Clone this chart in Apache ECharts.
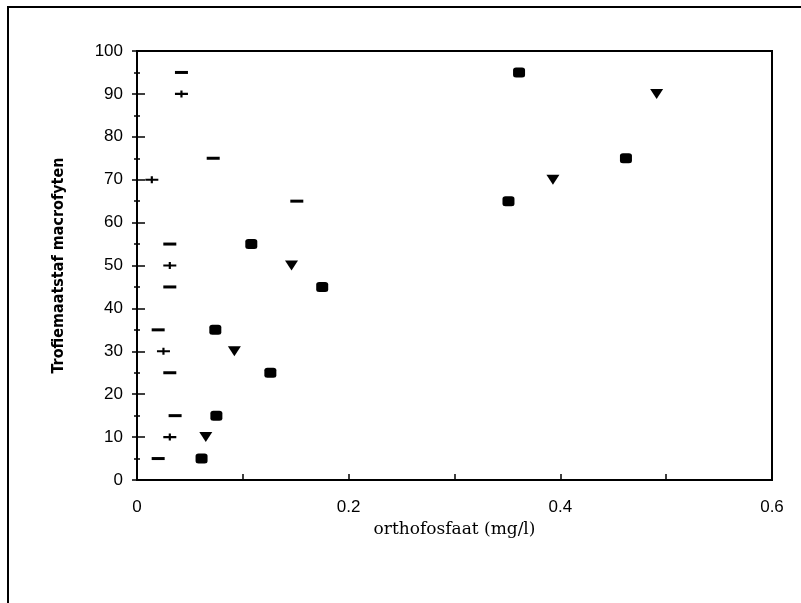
<!DOCTYPE html>
<html><head><meta charset="utf-8">
<script src="https://cdn.jsdelivr.net/npm/echarts@6/dist/echarts.min.js"></script>
<style>html,body{margin:0;padding:0;background:#fff}#c{width:801px;height:603px}</style>
</head><body><div id="c"></div>
<script>
// Series: filled squares
const squareX = [0.061, 0.075, 0.126, 0.074, 0.175, 0.108, 0.351, 0.462, 0.361];
const squareY = [5, 15, 25, 35, 45, 55, 65, 75, 95];
// Series: down triangles
const triX = [0.065, 0.092, 0.146, 0.393, 0.491];
const triY = [10, 30, 50, 70, 90];
// Series: dashes
const dashX = [0.020, 0.036, 0.031, 0.020, 0.031, 0.031, 0.151, 0.072, 0.042];
const dashY = [5, 15, 25, 35, 45, 55, 65, 75, 95];
// Series: plus marks
const plusX = [0.031, 0.025, 0.031, 0.014, 0.042];
const plusY = [10, 30, 50, 70, 90];

const xName = 'orthofosfaat (mg/l)';
const yName = 'Trofiemaatstaf macrofyten';

const pairs = (xs, ys) => xs.map((v, i) => [v, ys[i]]);
const chart = echarts.init(document.getElementById('c'), null, {renderer: 'canvas'});
const tickFont = 'Liberation Sans, Arial, sans-serif';
const yAxisBase = {
  type: 'value', min: 0, max: 100, interval: 10, position: 'left', offset: 0,
  splitLine: {show: false}
};
const black = '#000';
const sc = (xs, ys, extra) => Object.assign({
  type: 'scatter', data: pairs(xs, ys), itemStyle: {color: black, opacity: 1},
  emphasis: {disabled: true}, silent: true, animation: false
}, extra);

chart.setOption({
  animation: false,
  backgroundColor: '#fff',
  grid: {left: 137, right: 29, top: 51, bottom: 123, show: true, borderColor: black, borderWidth: 2, backgroundColor: 'transparent'},
  graphic: [{type: 'rect', shape: {x: 8, y: 7, width: 820, height: 620}, style: {fill: 'none', stroke: black, lineWidth: 2}, silent: true}],
  xAxis: {
    type: 'value', min: 0, max: 0.6, interval: 0.1,
    axisLine: {lineStyle: {color: black, width: 2}},
    axisTick: {inside: true, length: 6, lineStyle: {color: black, width: 1.5}},
    splitLine: {show: false},
    axisLabel: {
      color: black, fontSize: 17, fontFamily: tickFont, margin: 19,
      formatter: v => { const k = Math.round(v * 10); return k % 2 === 0 ? String(k / 10) : ''; }
    },
    name: xName, nameLocation: 'middle', nameGap: 40,
    nameTextStyle: {color: black, fontSize: 17, fontFamily: 'DejaVu Serif, serif'}
  },
  yAxis: [
    Object.assign({}, yAxisBase, {
      axisLine: {lineStyle: {color: black, width: 2}},
      axisTick: {inside: false, length: 5, lineStyle: {color: black, width: 1.5}},
      minorTick: {show: true, splitNumber: 2, length: 3, lineStyle: {color: black, width: 1.5}},
      axisLabel: {color: black, fontSize: 17, fontFamily: tickFont, margin: 14},
      name: yName, nameLocation: 'middle', nameGap: 70,
      nameTextStyle: {color: black, fontSize: 16, fontWeight: 'bold', fontFamily: 'DejaVu Sans Condensed, Liberation Sans Narrow, DejaVu Sans, sans-serif'}
    }),
    Object.assign({}, yAxisBase, {
      axisLine: {show: false},
      axisTick: {inside: true, length: 8, lineStyle: {color: black, width: 1.5}},
      minorTick: {show: true, splitNumber: 2, length: 3, lineStyle: {color: black, width: 1.5}},
      axisLabel: {show: false}
    })
  ],
  series: [
    sc(squareX, squareY, {symbol: 'roundRect', symbolSize: [12, 10]}),
    sc(triX, triY, {symbol: 'triangle', symbolRotate: 180, symbolSize: [13, 10]}),
    sc(dashX, dashY, {symbol: 'rect', symbolSize: [13, 3]}),
    sc(plusX, plusY, {symbol: 'path://M0,2.8L12,2.8L12,5.2L0,5.2Z M5,0L7,0L7,8L5,8Z', symbolKeepAspect: false, symbolSize: [13, 7]})
  ]
});
</script></body></html>
